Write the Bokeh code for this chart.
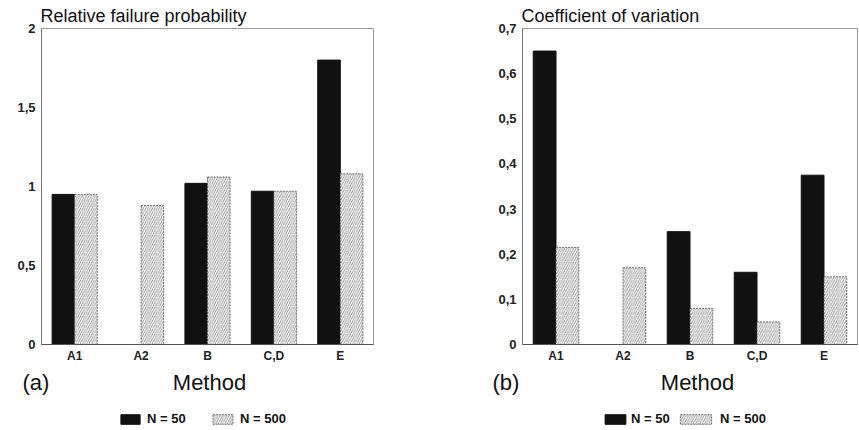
from bokeh.plotting import figure
from bokeh.models import (FactorRange, Range1d, FixedTicker, Label, Legend,
                          LegendItem, ColumnDataSource)
from bokeh.transform import dodge
from bokeh.layouts import row, column
from bokeh.embed import file_html
from bokeh.resources import INLINE

methods = ["A1", "A2", "B", "C,D", "E"]
rel_n50 = [0.95, float("nan"), 1.02, 0.97, 1.80]
rel_n500 = [0.95, 0.88, 1.06, 0.97, 1.08]
cov_n50 = [0.65, float("nan"), 0.25, 0.16, 0.375]
cov_n500 = [0.215, 0.17, 0.08, 0.05, 0.15]

rel_ticks = [0, 0.5, 1, 1.5, 2]
rel_tick_labels = ["0", "0,5", "1", "1,5", "2"]
cov_ticks = [0, 0.1, 0.2, 0.3, 0.4, 0.5, 0.6, 0.7]
cov_tick_labels = ["0", "0,1", "0,2", "0,3", "0,4", "0,5", "0,6", "0,7"]

titles = ["Relative failure probability", "Coefficient of variation"]
panel_tags = ["(a)", "(b)"]
x_title = "Method"
series_names = ["N = 50", "N = 500"]

FONT = "Liberation Sans"
BLACK = dict(fill_color="#111111", line_color="#111111")
HATCH = dict(fill_color="#f2f2f2", hatch_pattern="/", hatch_color="#888888",
             hatch_scale=4.5, hatch_weight=0.7, line_color="#555555",
             line_dash="2 1", line_width=0.8)


def make_panel(title, n50, n500, ymax, ticks, tick_labels, width, bl, br):
    src = ColumnDataSource(dict(method=methods, n50=n50, n500=n500))
    p = figure(x_range=FactorRange(*methods), y_range=Range1d(0, ymax),
               width=width, height=365, min_border_left=bl,
               min_border_right=br, min_border_top=28, min_border_bottom=20,
               output_backend="svg", toolbar_location=None)
    p.title.text = title
    p.title.text_font = FONT
    p.title.text_font_size = "18px"
    p.title.text_font_style = "normal"
    p.title.text_color = "#111111"
    p.title.standoff = 5
    p.title.offset = -1
    p.xgrid.visible = False
    p.ygrid.visible = False
    p.outline_line_color = "#9a9a9a"

    p.vbar(x=dodge("method", -0.17, range=p.x_range), top="n50",
           width=0.34, source=src, **BLACK)
    p.vbar(x=dodge("method", 0.17, range=p.x_range), top="n500",
           width=0.34, source=src, **HATCH)

    yax = p.yaxis[0]
    yax.ticker = FixedTicker(ticks=ticks)
    yax.major_label_overrides = {t: l for t, l in zip(ticks, tick_labels)}
    yax.major_tick_line_color = None
    yax.major_tick_out = 0
    yax.major_tick_in = 0
    yax.minor_tick_line_color = None
    yax.major_label_standoff = 6
    yax.major_label_text_font = FONT
    yax.major_label_text_font_size = "13px"
    yax.major_label_text_font_style = "bold"
    yax.major_label_text_color = "#222222"
    yax.axis_line_color = "#777777"

    xax = p.xaxis[0]
    xax.major_tick_line_color = None
    xax.major_tick_out = 0
    xax.major_tick_in = 0
    xax.minor_tick_line_color = None
    xax.major_label_standoff = 4
    xax.major_label_text_font = FONT
    xax.major_label_text_font_size = "12px"
    xax.major_label_text_font_style = "bold"
    xax.major_label_text_color = "#222222"
    xax.axis_line_color = "#555555"
    return p


def make_footer(width, tag, tag_x, method_x, legend_specs):
    f = figure(width=width, height=65, x_range=Range1d(0, width),
               y_range=Range1d(0, 65), min_border=0, output_backend="svg",
               toolbar_location=None)
    f.axis.visible = False
    f.grid.visible = False
    f.outline_line_color = None
    f.add_layout(Label(x=tag_x, y=48, text=tag, text_font=FONT,
                       text_font_size="22px", text_baseline="middle",
                       text_color="#111111"))
    f.add_layout(Label(x=method_x, y=48, text=x_title, text_font=FONT,
                       text_font_size="22px", text_baseline="middle",
                       text_align="center", text_color="#111111"))
    styles = [BLACK, HATCH]
    for name, style, (lx, gw, st) in zip(series_names, styles, legend_specs):
        # legend proxy glyph, kept far outside the visible ranges
        r = f.vbar(x=[-5000], top=[-5000], bottom=[-5001], width=1, **style)
        leg = Legend(items=[LegendItem(label=name, renderers=[r])],
                     location=(lx, 4), orientation="horizontal",
                     border_line_color=None, background_fill_alpha=0,
                     padding=0, margin=0, glyph_width=gw, glyph_height=12,
                     label_standoff=st, label_text_font=FONT,
                     label_text_font_size="13px",
                     label_text_font_style="bold", label_height=12,
                     label_text_color="#111111")
        f.add_layout(leg, "center")
    return f


p1 = make_panel(titles[0], rel_n50, rel_n500, 2.0, rel_ticks,
                rel_tick_labels, 430, 41, 57)
p2 = make_panel(titles[1], cov_n50, cov_n500, 0.7, cov_ticks,
                cov_tick_labels, 429, 92, 2)
f1 = make_footer(430, panel_tags[0], 22, 209, [(118, 24, 5), (210, 25, 5)])
f2 = make_footer(429, panel_tags[1], 62, 267, [(172, 26, 3), (246, 39, 5)])

layout = column(row(p1, p2), row(f1, f2))
open("out.html", "w").write(file_html(layout, INLINE))
